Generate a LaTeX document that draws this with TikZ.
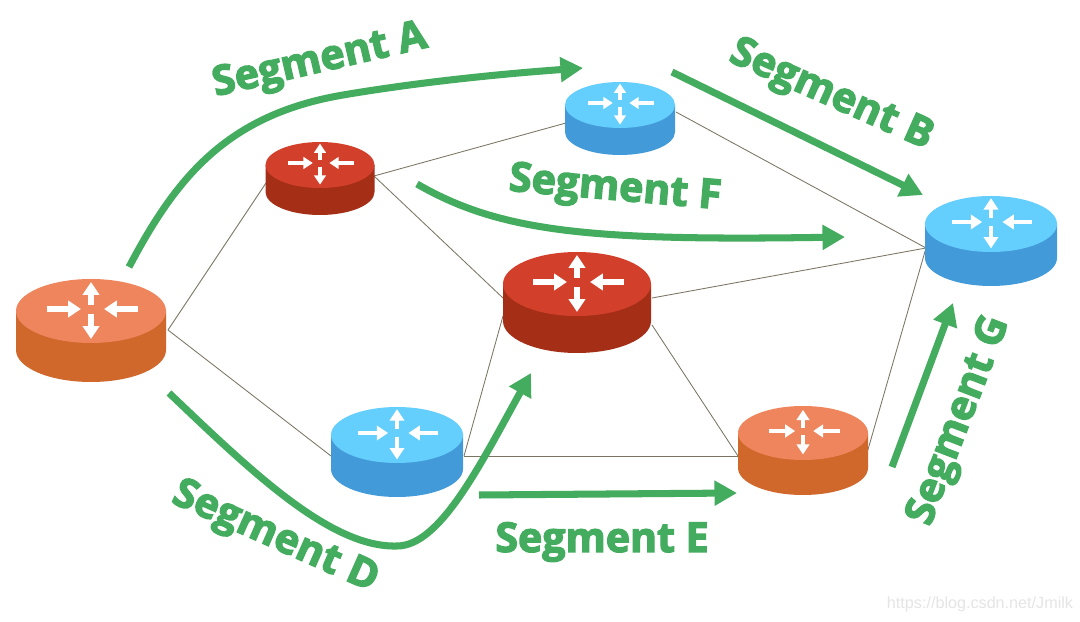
\documentclass[tikz,border=0pt]{standalone}
\usepackage{fontspec}
\setmainfont{Open Sans}
\newfontfamily\segfont[BoldFeatures={FakeBold=3.2}]{Open Sans}
\newfontfamily\wmfont{Liberation Sans}
\usetikzlibrary{arrows.meta}
\definecolor{segG}{HTML}{44AC5E}
\definecolor{orT}{HTML}{EE855C}
\definecolor{orS}{HTML}{D0672B}
\definecolor{reT}{HTML}{D2402B}
\definecolor{reS}{HTML}{A52E17}
\definecolor{blT}{HTML}{64CEFD}
\definecolor{blS}{HTML}{439AD8}
\definecolor{lnk}{HTML}{7A7462}
\tikzset{
  link/.style={draw=lnk,line width=0.6pt},
  seg/.style={draw=segG,line width=5pt,-{Triangle[length=16pt,width=17pt]}},
  seglabel/.style={text=segG,font=\segfont\bfseries\fontsize{29.2}{30}\selectfont,inner sep=0pt},
  wmark/.style={text=black!10,font=\wmfont\fontsize{11.5}{12}\selectfont,inner sep=0pt},
  whitearrow/.style={draw=white,line width=4pt*#1,-{Triangle[length=9.2pt*#1,width=11.5pt*#1,fill=white]}}
}
% name, cx, cy, rx, ry, h, top colour, side colour, scale
\newcommand{\routerdraw}[9]{%
  \fill[#8] (#2-#4,#3) -- (#2-#4,#3+#6) arc[start angle=180,end angle=360,x radius=#4,y radius=-#5] -- (#2+#4,#3) -- cycle;
  \fill[#7] (#2,#3) ellipse[x radius=#4,y radius=#5];
  \coordinate (#1-c) at (#2,#3-2);
  \draw[whitearrow=#9] ([xshift=-44*#9*0.025cm]#1-c) -- ([xshift=-10*#9*0.025cm]#1-c);
  \draw[whitearrow=#9] ([xshift=47*#9*0.025cm]#1-c) -- ([xshift=13*#9*0.025cm]#1-c);
  \draw[whitearrow=#9] ([yshift=4*#9*0.025cm]#1-c) -- ([yshift=27*#9*0.025cm]#1-c);
  \draw[whitearrow=#9] ([yshift=-5*#9*0.025cm]#1-c) -- ([yshift=-30*#9*0.025cm]#1-c);
}
\begin{document}
\begin{tikzpicture}[x=0.025cm,y=-0.025cm]
\useasboundingbox (0,0) rectangle (1080,622);
\fill[white] (0,0) rectangle (1080,622);

% link anchors
\coordinate (ar) at (168,330);
\coordinate (bl) at (266,183);
\coordinate (br) at (374,176);
\coordinate (cl) at (566,123);
\coordinate (cr) at (676,112);
\coordinate (dl) at (503,298);
\coordinate (dll) at (503,316);
\coordinate (dr) at (652,298);
\coordinate (drr) at (652,325);
\coordinate (el) at (926,248);
\coordinate (fl) at (331,456);
\coordinate (fr) at (464,456);
\coordinate (gl) at (738,456);
\coordinate (gr) at (867,453);

\path[link] (ar) -- (bl);
\path[link] (ar) -- (fl);
\path[link] (br) -- (cl);
\path[link] (br) -- (dl);
\path[link] (cr) -- (el);
\path[link] (dr) -- (el);
\path[link] (dll) -- (fr);
\path[link] (fr) -- (gl);
\path[link] (drr) -- (gl);
\path[link] (gr) -- (el);

\routerdraw{A}{91}{311}{75}{32}{39}{orT}{orS}{1}
\routerdraw{B}{320}{165}{54.5}{23}{27}{reT}{reS}{0.72}
\routerdraw{C}{620}{105}{55}{23}{27}{blT}{blS}{0.72}
\routerdraw{D}{577}{284}{74}{32}{37}{reT}{reS}{1}
\routerdraw{E}{991}{224}{66}{28}{34}{blT}{blS}{0.88}
\routerdraw{F}{397}{435}{66}{28}{34}{blT}{blS}{0.88}
\routerdraw{G}{803}{433}{65}{27}{35}{orT}{orS}{0.78}

% segment arrows
\coordinate (sa1) at (129,267);
\coordinate (sa2) at (583,68);
\coordinate (sb1) at (672,72);
\coordinate (sb2) at (923,195);
\coordinate (sf1) at (417,184);
\coordinate (sf2) at (845,237);
\coordinate (sd1) at (169,393);
\coordinate (sd2) at (531,373);
\coordinate (se1) at (479,495);
\coordinate (se2) at (737,493);
\coordinate (sg1) at (892,467);
\coordinate (sg2) at (953,303);

\draw[seg] (sa1) .. controls (175,180) and (225,115) .. (343,95) .. controls (420,82) and (500,74) .. (sa2);
\draw[seg] (sb1) -- (sb2);
\draw[seg] (sf1) .. controls (500,232) and (590,241) .. (sf2);
\draw[seg] (sd1) .. controls (250,470) and (330,548) .. (397,546) .. controls (440,546) and (480,465) .. (sd2);
\draw[seg] (se1) -- (se2);
\draw[seg] (sg1) -- (sg2);

% labels
\node[seglabel,rotate=13] (la) at (320,62) {Segment A};
\node[seglabel,rotate=-24] (lb) at (831,96) {Segment B};
\node[seglabel,rotate=-5] (lf) at (615,190) {Segment F};
\node[seglabel,rotate=-24] (ld) at (275,538) {Segment D};
\node[seglabel] (le) at (602,542) {Segment E};
\node[seglabel,rotate=69] (lg) at (960,421) {Segment G};
\node[wmark] (wm) at (980,604) {https://blog.csdn.net/Jmilk};
\end{tikzpicture}
\end{document}
